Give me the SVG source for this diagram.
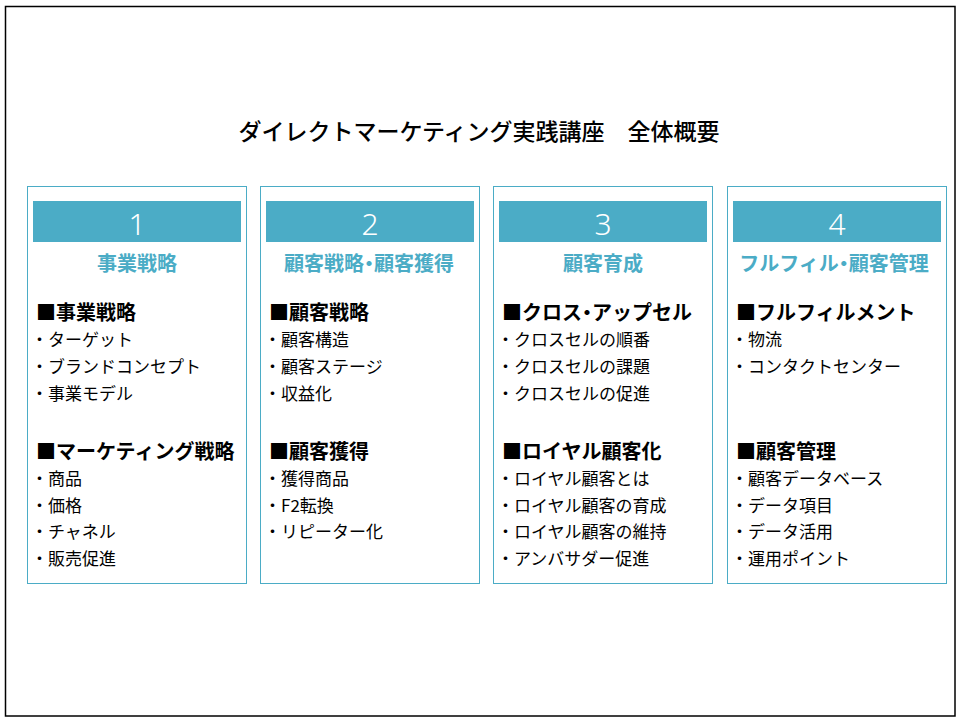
<svg xmlns="http://www.w3.org/2000/svg" width="960" height="720" viewBox="0 0 960 720">
<style>
text{font-family:"Noto Sans CJK JP","Noto Sans",sans-serif}
.frame{fill:#fff;stroke:#000;stroke-width:1.5}
.box{fill:#fff;stroke:#4BACC6;stroke-width:1}
.bar{fill:#4BACC6}
.num{fill:#fff;font-size:30px;font-weight:300;text-anchor:middle;font-family:"Noto Sans","Noto Sans CJK JP",sans-serif}
.sub{fill:#4BACC6;font-size:20px;font-weight:bold;text-anchor:middle}
.hd{fill:#000;font-size:20px;font-weight:bold}
.it{fill:#000;font-size:17px}
.title{fill:#000;font-size:23px;font-weight:500;text-anchor:middle}
.d{font-feature-settings:"palt"}
</style>
<rect class="frame" x="5.5" y="6.5" width="949.5" height="709.5"/>
<text class="title" x="479" y="140">ダイレクトマーケティング実践講座　全体概要</text>
<g id="col1">
<rect class="box" x="27.5" y="186.5" width="219" height="397"/>
<rect class="bar" x="33" y="201" width="208" height="41"/>
<text class="num" x="137" y="235">1</text>
<text class="sub" x="137" y="271">事業戦略</text>
<text class="hd" x="36" y="320">■事業戦略</text>
<text class="it" x="31" y="346">・ターゲット</text>
<text class="it" x="31" y="373">・ブランドコンセプト</text>
<text class="it" x="31" y="400">・事業モデル</text>
<text class="hd" x="36" y="459">■マーケティング戦略</text>
<text class="it" x="31" y="485">・商品</text>
<text class="it" x="31" y="512">・価格</text>
<text class="it" x="31" y="538">・チャネル</text>
<text class="it" x="31" y="565">・販売促進</text>
</g>
<g id="col2">
<rect class="box" x="260.5" y="186.5" width="219" height="397"/>
<rect class="bar" x="266" y="201" width="208" height="41"/>
<text class="num" x="370" y="235">2</text>
<text class="sub" x="369" y="271">顧客戦略<tspan class="d">・</tspan>顧客獲得</text>
<text class="hd" x="269" y="320">■顧客戦略</text>
<text class="it" x="264" y="346">・顧客構造</text>
<text class="it" x="264" y="373">・顧客ステージ</text>
<text class="it" x="264" y="400">・収益化</text>
<text class="hd" x="269" y="459">■顧客獲得</text>
<text class="it" x="264" y="485">・獲得商品</text>
<text class="it" x="264" y="512">・F2転換</text>
<text class="it" x="264" y="538">・リピーター化</text>
</g>
<g id="col3">
<rect class="box" x="493.5" y="186.5" width="219" height="397"/>
<rect class="bar" x="499" y="201" width="208" height="41"/>
<text class="num" x="603" y="235">3</text>
<text class="sub" x="603" y="271">顧客育成</text>
<text class="hd" x="502" y="320">■クロス<tspan class="d">・</tspan>アップセル</text>
<text class="it" x="497" y="346">・クロスセルの順番</text>
<text class="it" x="497" y="373">・クロスセルの課題</text>
<text class="it" x="497" y="400">・クロスセルの促進</text>
<text class="hd" x="502" y="459">■ロイヤル顧客化</text>
<text class="it" x="497" y="485">・ロイヤル顧客とは</text>
<text class="it" x="497" y="512">・ロイヤル顧客の育成</text>
<text class="it" x="497" y="538">・ロイヤル顧客の維持</text>
<text class="it" x="497" y="565">・アンバサダー促進</text>
</g>
<g id="col4">
<rect class="box" x="727.5" y="186.5" width="219" height="397"/>
<rect class="bar" x="733" y="201" width="208" height="41"/>
<text class="num" x="837" y="235">4</text>
<text class="sub" x="834" y="271">フルフィル<tspan class="d">・</tspan>顧客管理</text>
<text class="hd" x="736" y="320">■フルフィルメント</text>
<text class="it" x="731" y="346">・物流</text>
<text class="it" x="731" y="373">・コンタクトセンター</text>
<text class="hd" x="736" y="459">■顧客管理</text>
<text class="it" x="731" y="485">・顧客データベース</text>
<text class="it" x="731" y="512">・データ項目</text>
<text class="it" x="731" y="538">・データ活用</text>
<text class="it" x="731" y="565">・運用ポイント</text>
</g>
<g id="connectors"/>
</svg>
